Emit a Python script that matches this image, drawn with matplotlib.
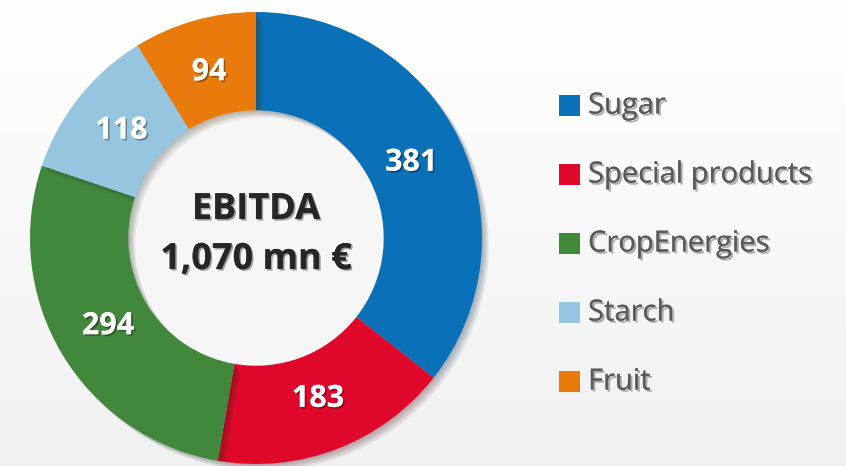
import numpy as np
import matplotlib.pyplot as plt
import matplotlib.patheffects as pe
from matplotlib.patches import Rectangle, Circle

# Data
segments = ["Sugar", "Special products", "CropEnergies", "Starch", "Fruit"]
ebitda = [381, 183, 294, 118, 94]
colors = ["#0A70B8", "#E0082A", "#41873C", "#96C5E0", "#E97B0C"]
center_title = "EBITDA"
center_total = "1,070 mn €"

plt.rcParams["font.family"] = ["Open Sans", "DejaVu Sans"]

W, H = 846, 466
fig = plt.figure(figsize=(W / 100, H / 100), dpi=100)

# Background gradient (white at top, light grey at bottom)
bg = fig.add_axes([0, 0, 1, 1])
grad = np.linspace(1.0, 0.945, 256).reshape(-1, 1)
bg.imshow(np.dstack([grad, grad, grad]), aspect="auto", extent=[0, 1, 0, 1])
bg.set_xlim(0, 1)
bg.set_ylim(0, 1)
bg.axis("off")

# Donut
cx, cy, r = 256, 238, 226
ax = fig.add_axes([(cx - r) / W, (H - cy - r) / H, 2 * r / W, 2 * r / H])
ring = 0.435

# hole fill underneath, so the ring's shadow falls into it
ax.add_patch(Circle((0, 0), 1 - ring, facecolor="#F6F6F6", edgecolor="none", zorder=0))

soft = [pe.SimplePatchShadow(offset=(d, -d), alpha=0.07) for d in (1, 2, 3, 4, 5)]
wedges, _ = ax.pie(ebitda, colors=colors, startangle=90, counterclock=False,
                   radius=1.0, wedgeprops=dict(width=ring, linewidth=0))
for w in wedges:
    w.set_path_effects(soft + [pe.Normal()])

# value labels
shadow = [pe.withSimplePatchShadow(offset=(1.2, -1.2), shadow_rgbFace="black", alpha=0.35), pe.Normal()]
total = sum(ebitda)
start = 90.0
lab_r = 1 - ring / 2 - 0.02
for v in ebitda:
    span = v / total * 360
    mid = np.deg2rad(start - span / 2)
    ax.text(lab_r * np.cos(mid), lab_r * np.sin(mid), str(v), ha="center", va="center",
            color="white", fontsize=22, fontweight="bold", zorder=5, path_effects=shadow)
    start -= span

ax.text(0, 0.084, center_title, ha="center", va="baseline", fontsize=26, fontweight="bold",
        color="#262626", zorder=5, path_effects=shadow)
ax.text(0, -0.137, center_total, ha="center", va="baseline", fontsize=26, fontweight="bold",
        color="#262626", zorder=5, path_effects=shadow)
ax.set_xlim(-1, 1)
ax.set_ylim(-1, 1)
ax.set_aspect("equal")
ax.axis("off")

# Legend
lg = fig.add_axes([0, 0, 1, 1], facecolor="none")
lg.set_xlim(0, W)
lg.set_ylim(H, 0)
lg.axis("off")
for i, (name, c) in enumerate(zip(segments, colors)):
    y = 105 + i * 69
    lg.add_patch(Rectangle((559, y - 10.5), 21, 21, facecolor=c, edgecolor="none"))
    lg.text(588, y + 1, name, ha="left", va="center", fontsize=21, color="#595959",
            path_effects=[pe.withSimplePatchShadow(offset=(1.5, -1.5), shadow_rgbFace="black", alpha=0.3),
                          pe.Normal()])

fig.savefig("out.png", dpi=100)
